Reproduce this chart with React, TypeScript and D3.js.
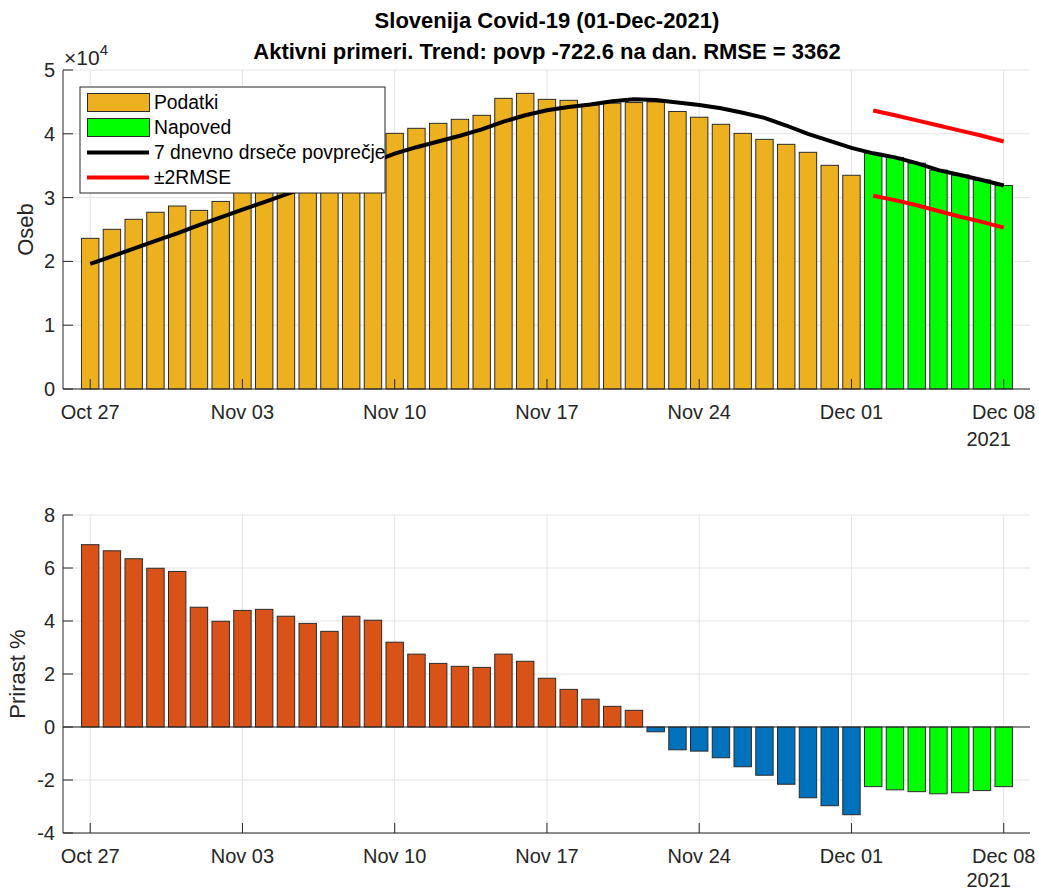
import React, { useEffect, useRef } from "react";
import * as d3 from "d3";

const WIDTH = 1039;
const HEIGHT = 892;

// days Oct 27 .. Dec 08 2021
const days = d3.timeDay.range(new Date(2021, 9, 27), new Date(2021, 11, 9));
const tickLabels = ["Oct 27", "Nov 03", "Nov 10", "Nov 17", "Nov 24", "Dec 01", "Dec 08"];

// aktivni primeri, Oct 27 .. Dec 01
const podatki = [
  23620, 25030, 26600, 27700, 28680, 28000, 29400, 31500, 32500, 34200, 35800,
  37000, 37500, 38500, 40070, 40860, 41640, 42270, 42900, 45560, 46340, 45400,
  45250, 44500, 44800, 44900, 45000, 43500, 42600, 41490, 40070, 39130, 38350,
  37100, 35060, 33500,
];
// napoved, Dec 02 .. Dec 08
const napoved = [36940, 36300, 35400, 34300, 33540, 32760, 31900];
// 7 dnevno drsece povprecje, Oct 27 .. Dec 08
const trend7 = [
  19600, 20800, 22000, 23200, 24400, 25700, 26900, 28100, 29300, 30500, 31700,
  33000, 34300, 35600, 36900, 37900, 38800, 39700, 40700, 41900, 42900, 43700,
  44200, 44600, 45100, 45400, 45300, 44900, 44500, 44000, 43300, 42500, 41300,
  40000, 38900, 37800, 36940, 36300, 35400, 34300, 33540, 32760, 31900,
];
const upper = [43660, 42900, 42100, 41300, 40500, 39700, 38800];
const lower = [30300, 29600, 28800, 27900, 27000, 26200, 25300];

// prirast %, Oct 27 .. Dec 01
const prirast = [
  6.88, 6.65, 6.35, 5.99, 5.87, 4.52, 3.99, 4.4, 4.44, 4.18, 3.91, 3.61, 4.18,
  4.03, 3.2, 2.75, 2.4, 2.29, 2.25, 2.75, 2.48, 1.84, 1.42, 1.05, 0.78, 0.63,
  -0.18, -0.86, -0.91, -1.16, -1.5, -1.82, -2.16, -2.67, -2.97, -3.31,
];
const prirastNapoved = [-2.25, -2.37, -2.44, -2.52, -2.48, -2.4, -2.25];

const topTicks = [0, 10000, 20000, 30000, 40000, 50000];
const botTicks = [-4, -2, 0, 2, 4, 6, 8];

const FONT = "'Liberation Sans', Arial, Helvetica, sans-serif";
const AXIS = "#262626";
const GRID = "#e3e3e3";

const App = () => {
  const svgRef = useRef(null);

  useEffect(() => {
    const svg = d3.select(svgRef.current);
    svg.selectAll("*").remove();

    const left = 63;
    const right = 1030;
    const x = d3
      .scaleTime()
      .domain([d3.timeHour.offset(days[0], -30), d3.timeHour.offset(days[days.length - 1], 29)])
      .range([left, right]);
    const bw = (x(days[1]) - x(days[0])) * 0.8;
    const tickDays = tickLabels.map((_, i) => days[i * 7]);

    const yTop = d3.scaleLinear().domain([0, 50000]).range([389, 70]);
    const yBot = d3.scaleLinear().domain([-4, 8]).range([833, 515]);

    const grid = (y, ticks) => {
      const [y0, y1] = y.range();
      svg.append("g")
        .selectAll(null)
        .data(ticks)
        .join("line")
        .attr("x1", left)
        .attr("x2", right)
        .attr("y1", (d) => y(d))
        .attr("y2", (d) => y(d))
        .attr("stroke", GRID);
      svg.append("g")
        .selectAll(null)
        .data(tickDays)
        .join("line")
        .attr("x1", (d) => x(d))
        .attr("x2", (d) => x(d))
        .attr("y1", y0)
        .attr("y2", y1)
        .attr("stroke", GRID);
    };

    const axes = (y, ticks, fmt) => {
      const [y0, y1] = y.range();
      const g = svg.append("g").attr("font-family", FONT).attr("fill", AXIS);
      g.append("line").attr("x1", left).attr("x2", left).attr("y1", y0).attr("y2", y1).attr("stroke", AXIS);
      g.append("line").attr("x1", left).attr("x2", right).attr("y1", y0).attr("y2", y0).attr("stroke", AXIS);
      g.selectAll(null)
        .data(ticks)
        .join("line")
        .attr("x1", left)
        .attr("x2", left + 10)
        .attr("y1", (d) => y(d))
        .attr("y2", (d) => y(d))
        .attr("stroke", AXIS);
      g.selectAll(null)
        .data(ticks)
        .join("text")
        .attr("x", left - 8)
        .attr("y", (d) => y(d))
        .attr("dy", "0.35em")
        .attr("text-anchor", "end")
        .attr("font-size", 20)
        .attr("fill", AXIS)
        .text(fmt);
      g.selectAll(null)
        .data(tickDays)
        .join("line")
        .attr("x1", (d) => x(d))
        .attr("x2", (d) => x(d))
        .attr("y1", y0)
        .attr("y2", y0 - 10)
        .attr("stroke", AXIS);
      g.selectAll(null)
        .data(tickDays)
        .join("text")
        .attr("x", (d) => x(d))
        .attr("y", y0 + 30)
        .attr("text-anchor", "middle")
        .attr("font-size", 20)
        .attr("fill", AXIS)
        .text((_, i) => tickLabels[i]);
      g.append("text")
        .attr("x", x(days[days.length - 1]) - 15)
        .attr("y", Math.min(y0 + 57, 887))
        .attr("text-anchor", "middle")
        .attr("font-size", 20)
        .attr("fill", AXIS)
        .text("2021");
    };

    // ---------- top panel ----------
    grid(yTop, topTicks);

    svg.append("g")
      .selectAll(null)
      .data(podatki)
      .join("rect")
      .attr("x", (d, i) => x(days[i]) - bw / 2)
      .attr("y", (d) => yTop(d))
      .attr("width", bw)
      .attr("height", (d) => yTop(0) - yTop(d))
      .attr("fill", "#EDB120")
      .attr("stroke", "#2b2b2b");

    const fcDays = days.slice(podatki.length);
    svg.append("g")
      .selectAll(null)
      .data(napoved)
      .join("rect")
      .attr("x", (d, i) => x(fcDays[i]) - bw / 2)
      .attr("y", (d) => yTop(d))
      .attr("width", bw)
      .attr("height", (d) => yTop(0) - yTop(d))
      .attr("fill", "#00FF00")
      .attr("stroke", "#2b2b2b");

    const line = d3.line().x((d) => x(d[0])).y((d) => yTop(d[1]));
    svg.append("path")
      .datum(trend7.map((v, i) => [days[i], v]))
      .attr("fill", "none")
      .attr("stroke", "#000")
      .attr("stroke-width", 4)
      .attr("d", line);
    [upper, lower].forEach((s) => {
      svg.append("path")
        .datum(s.map((v, i) => [fcDays[i], v]))
        .attr("fill", "none")
        .attr("stroke", "#FF0000")
        .attr("stroke-width", 4)
        .attr("d", line);
    });

    axes(yTop, topTicks, (d) => d / 10000);

    // x10^4
    const exp = svg.append("text")
      .attr("x", 64)
      .attr("y", 65)
      .attr("font-family", FONT)
      .attr("font-size", 21)
      .attr("fill", AXIS)
      .text("\u00d710");
    exp.append("tspan").attr("dy", -10).attr("font-size", 15).text("4");

    // legend
    const legend = svg.append("g").attr("font-family", FONT).attr("font-size", 19.3);
    legend.append("rect")
      .attr("x", 80)
      .attr("y", 87)
      .attr("width", 305)
      .attr("height", 106)
      .attr("fill", "#fff")
      .attr("stroke", AXIS);
    const items = [
      { label: "Podatki", type: "rect", color: "#EDB120" },
      { label: "Napoved", type: "rect", color: "#00FF00" },
      { label: "7 dnevno drseče povprečje", type: "line", color: "#000" },
      { label: "±2RMSE", type: "line", color: "#FF0000" },
    ];
    items.forEach((it, i) => {
      const cy = 102.5 + i * 25;
      if (it.type === "rect") {
        legend.append("rect")
          .attr("x", 87.5)
          .attr("y", cy - 9)
          .attr("width", 62)
          .attr("height", 18)
          .attr("fill", it.color)
          .attr("stroke", "#2b2b2b");
      } else {
        legend.append("line")
          .attr("x1", 87)
          .attr("x2", 149)
          .attr("y1", cy)
          .attr("y2", cy)
          .attr("stroke", it.color)
          .attr("stroke-width", 4);
      }
      legend.append("text")
        .attr("x", 154)
        .attr("y", cy)
        .attr("dy", "0.35em")
        .attr("fill", "#000")
        .text(it.label);
    });

    // ---------- bottom panel ----------
    grid(yBot, botTicks);

    svg.append("g")
      .selectAll(null)
      .data(prirast)
      .join("rect")
      .attr("x", (d, i) => x(days[i]) - bw / 2)
      .attr("y", (d) => yBot(Math.max(0, d)))
      .attr("width", bw)
      .attr("height", (d) => Math.abs(yBot(d) - yBot(0)))
      .attr("fill", (d) => (d >= 0 ? "#D95319" : "#0072BD"))
      .attr("stroke", "#2b2b2b");

    svg.append("g")
      .selectAll(null)
      .data(prirastNapoved)
      .join("rect")
      .attr("x", (d, i) => x(fcDays[i]) - bw / 2)
      .attr("y", (d) => yBot(Math.max(0, d)))
      .attr("width", bw)
      .attr("height", (d) => Math.abs(yBot(d) - yBot(0)))
      .attr("fill", "#00FF00")
      .attr("stroke", "#2b2b2b");

    svg.append("line")
      .attr("x1", left)
      .attr("x2", right)
      .attr("y1", yBot(0))
      .attr("y2", yBot(0))
      .attr("stroke", AXIS);

    axes(yBot, botTicks, (d) => d);

    // titles
    const titles = svg.append("g")
      .attr("font-family", FONT)
      .attr("font-weight", "bold")
      .attr("font-size", 22)
      .attr("text-anchor", "middle")
      .attr("fill", "#000");
    titles.append("text").attr("x", 547).attr("y", 28).text("Slovenija Covid-19 (01-Dec-2021)");
    titles.append("text")
      .attr("x", 547)
      .attr("y", 59)
      .text("Aktivni primeri. Trend: povp -722.6 na dan. RMSE = 3362");

    // y labels
    svg.append("text")
      .attr("transform", `translate(33,${(70 + 389) / 2}) rotate(-90)`)
      .attr("text-anchor", "middle")
      .attr("font-family", FONT)
      .attr("font-size", 22)
      .attr("fill", AXIS)
      .text("Oseb");
    svg.append("text")
      .attr("transform", `translate(25,${(515 + 833) / 2}) rotate(-90)`)
      .attr("text-anchor", "middle")
      .attr("font-family", FONT)
      .attr("font-size", 22)
      .attr("fill", AXIS)
      .text("Prirast %");
  }, []);

  return (
    <svg
      ref={svgRef}
      width={WIDTH}
      height={HEIGHT}
      style={{ position: "absolute", left: 0, top: 0, background: "#fff" }}
    ></svg>
  );
};

export default App;
